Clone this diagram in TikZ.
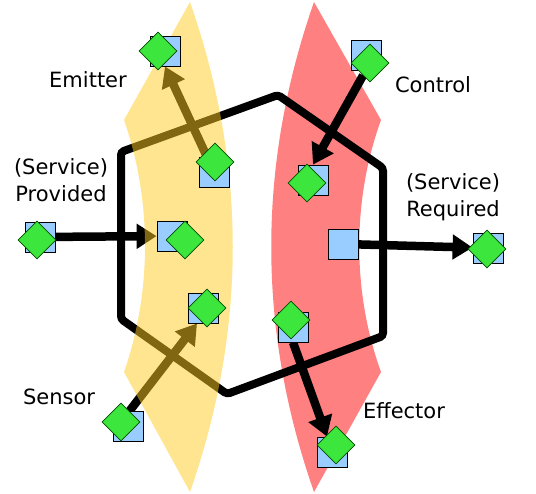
\documentclass[tikz,border=0pt]{standalone}
\usepackage{fontspec}
\setmainfont{DejaVu Sans}
\usetikzlibrary{shapes.geometric, arrows.meta}
\definecolor{portblue}{HTML}{99CCFF}
\definecolor{portgreen}{HTML}{3CE63C}
\definecolor{bandyellow}{HTML}{FFCC20}
\definecolor{bandred}{HTML}{FF8080}
\pgfdeclarelayer{back}
\pgfdeclarelayer{wires}
\pgfdeclarelayer{band}
\pgfsetlayers{back,wires,band,main}
\tikzset{
  sq/.style={draw, fill=portblue, minimum size=30pt, inner sep=0pt, line width=0.8pt},
  dia/.style={diamond, draw=black!70!green, fill=portgreen, minimum size=38pt, inner sep=0pt, line width=0.6pt},
  flow/.style={line width=8.5pt, -{Triangle[length=20pt,width=24pt]}},
  lbl/.style={font=\fontsize{21}{27}\selectfont, align=center}
}

\begin{document}
\begin{tikzpicture}[x=1pt, y=-1pt]
                        \useasboundingbox (0,0) rectangle (536,494);

                        \node[sq] (emo) at (165,51) {};
                        \node[dia] (emod) at (158,51) {};
                        \node[sq] (emi) at (214,172) {};
                        \node[dia] (emid) at (215,162) {};
                        \node[sq] (pro) at (40,237) {};
                        \node[dia] (prod) at (37,240) {};
                        \node[sq] (pri) at (172,236) {};
                        \node[dia] (prid) at (185,240) {};
                        \node[sq] (sei) at (203,308) {};
                        \node[dia] (seid) at (207,308) {};
                        \node[sq] (seo) at (128,426) {};
                        \node[dia] (seod) at (121,422) {};
                        \node[sq] (coo) at (366,55) {};
                        \node[dia] (cood) at (370,63) {};
                        \node[sq] (coi) at (313,180) {};
                        \node[dia] (coid) at (307,183) {};
                        \node[sq] (rei) at (343,244) {};
                        \node[sq] (reo) at (488,248) {};
                        \node[dia] (reod) at (487,249) {};
                        \node[sq] (efi) at (293,327) {};
                        \node[dia] (efid) at (291,320) {};
                        \node[sq] (efo) at (332,452) {};
                        \node[dia] (efod) at (336,445) {};

                        \node[lbl] (emt) at (88,80) {Emitter};
                        \node[lbl] (prt) at (61,180) {(Service)\\Provided};
                        \node[lbl] (cot) at (433,85) {Control};
                        \node[lbl] (ret) at (453,197) {(Service)\\Required};
                        \node[lbl] (set) at (59,397) {Sensor};
                        \node[lbl] (eft) at (404,411) {Effector};

                        \begin{pgfonlayer}{back}
                        \fill[bandred] (314,2) .. controls (257,165) and (257,329) .. (314,492)
                          -- (381,372) .. controls (352,292) and (352,200) .. (381,120) -- cycle;
                        \end{pgfonlayer}

                        \begin{pgfonlayer}{wires}
                        \draw[line width=8pt, rounded corners=3pt]
                          (121,152) -- (278,95) -- (383,168) -- (383,336) -- (227,394) -- (121,319) -- cycle;
                        \draw[flow] (emi) -- (emo.south);
                        \draw[flow] (pro) -- (pri);
                        \draw[flow] (seod) -- ([xshift=-6pt]sei.south);
                        \draw[flow] (cood) -- (coi.north);
                        \draw[flow] (rei) -- (reo);
                        \draw[flow] (efi.south) -- ([xshift=-5pt]efo.north);
                        \end{pgfonlayer}

                        \begin{pgfonlayer}{band}
                        \fill[bandyellow, opacity=0.5] (190,2) .. controls (247,165) and (247,329) .. (190,492)
                          -- (124,372) .. controls (152,292) and (152,200) .. (124,120) -- cycle;
                        \end{pgfonlayer}
                    \end{tikzpicture}
\end{document}
